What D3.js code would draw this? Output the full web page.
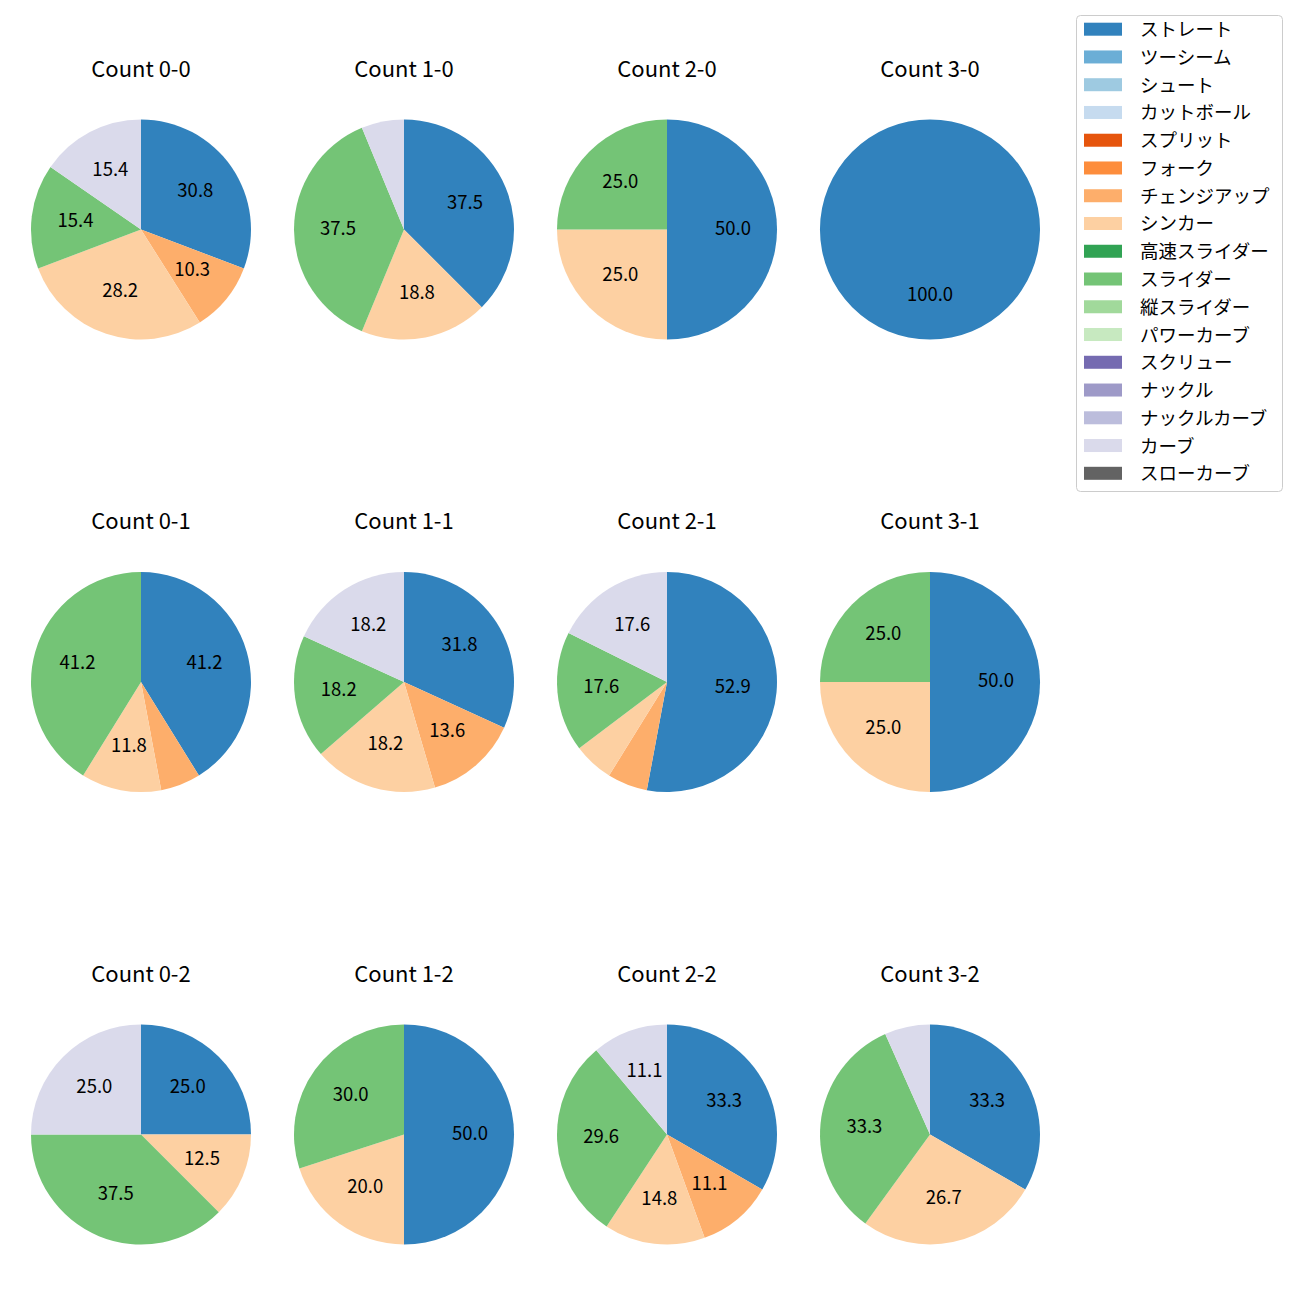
<!DOCTYPE html>
<html>
<head>
<meta charset="utf-8">
<script src="https://cdn.jsdelivr.net/npm/d3@7"></script>
<style>
  html, body { margin: 0; padding: 0; background: #fff; }
  svg { display: block; }
  text { font-family: "Noto Sans CJK JP", "Noto Sans", sans-serif; }
</style>
</head>
<body>
<svg id="chart" width="1300" height="1300"></svg>
<script>
// ---- data ----
const pitchTypes = ["ストレート","ツーシーム","シュート","カットボール","スプリット","フォーク","チェンジアップ","シンカー","高速スライダー","スライダー","縦スライダー","パワーカーブ","スクリュー","ナックル","ナックルカーブ","カーブ","スローカーブ"];
const pitchColors = ["#3182bd","#6baed6","#9ecae1","#c6dbef","#e6550d","#fd8d3c","#fdae6b","#fdd0a2","#31a354","#74c476","#a1d99b","#c7e9c0","#756bb1","#9e9ac8","#bcbddc","#dadaeb","#636363"];
const balls = ["0","1","2","3"];
const strikes = ["0","1","2"];
// pitch counts per situation, in pitchTypes order
const count00 = [12,0,0,0,0,0,4,11,0,6,0,0,0,0,0,6,0];
const count10 = [6,0,0,0,0,0,0,3,0,6,0,0,0,0,0,1,0];
const count20 = [2,0,0,0,0,0,0,1,0,1,0,0,0,0,0,0,0];
const count30 = [1,0,0,0,0,0,0,0,0,0,0,0,0,0,0,0,0];
const count01 = [7,0,0,0,0,0,1,2,0,7,0,0,0,0,0,0,0];
const count11 = [7,0,0,0,0,0,3,4,0,4,0,0,0,0,0,4,0];
const count21 = [9,0,0,0,0,0,1,1,0,3,0,0,0,0,0,3,0];
const count31 = [2,0,0,0,0,0,0,1,0,1,0,0,0,0,0,0,0];
const count02 = [2,0,0,0,0,0,0,1,0,3,0,0,0,0,0,2,0];
const count12 = [5,0,0,0,0,0,0,2,0,3,0,0,0,0,0,0,0];
const count22 = [9,0,0,0,0,0,3,4,0,8,0,0,0,0,0,3,0];
const count32 = [5,0,0,0,0,0,0,4,0,5,0,0,0,0,0,1,0];
const labelThreshold = 10;

const panels = [
  {b:"0", s:"0", v:count00},{b:"1", s:"0", v:count10},{b:"2", s:"0", v:count20},{b:"3", s:"0", v:count30},
  {b:"0", s:"1", v:count01},{b:"1", s:"1", v:count11},{b:"2", s:"1", v:count21},{b:"3", s:"1", v:count31},
  {b:"0", s:"2", v:count02},{b:"1", s:"2", v:count12},{b:"2", s:"2", v:count22},{b:"3", s:"2", v:count32}
];

// ---- layout ----
const svg = d3.select("#chart");
svg.append("rect").attr("width",1300).attr("height",1300).attr("fill","#fff");

const x = d3.scalePoint().domain(balls).range([141, 930]);
const y = d3.scalePoint().domain(strikes).range([229.5, 1134.5]);
const color = d3.scaleOrdinal().domain(pitchTypes).range(pitchColors);
const R = 110;

const pie = d3.pie().sort(null).value(d => d.value).startAngle(0).endAngle(2*Math.PI);
const arc = d3.arc().innerRadius(0).outerRadius(R);
const labelArc = d3.arc().innerRadius(R*0.6).outerRadius(R*0.6);

panels.forEach(p => {
  const g = svg.append("g").attr("transform", `translate(${x(p.b)},${y(p.s)})`);
  const total = d3.sum(p.v);
  const data = pitchTypes.map((t,i) => ({type:t, value:p.v[i]}));
  const arcs = pie(data).filter(a => a.data.value > 0);
  g.selectAll("path.slice").data(arcs).join("path")
    .attr("class","slice")
    .attr("d", arc)
    .attr("fill", d => color(d.data.type));
  g.selectAll("text.lbl").data(arcs.filter(a => a.data.value/total*100 >= labelThreshold)).join("text")
    .attr("class","lbl")
    .attr("transform", d => `translate(${labelArc.centroid(d)})`)
    .attr("dy", "-3")
    .attr("text-anchor","middle")
    .attr("dominant-baseline","central")
    .attr("font-size","18.5px")
    .attr("fill","#000")
    .text(d => (d.data.value/total*100).toFixed(1));
  g.append("text")
    .attr("x",0).attr("y",-153)
    .attr("text-anchor","middle")
    .attr("font-size","22px")
    .attr("fill","#000")
    .text(`Count ${p.b}-${p.s}`);
});

// ---- legend ----
const lg = svg.append("g");
lg.append("rect")
  .attr("x",1076.5).attr("y",15.5).attr("width",206).attr("height",476)
  .attr("rx",4).attr("ry",4)
  .attr("fill","#fff").attr("fill-opacity",0.8)
  .attr("stroke","#cccccc").attr("stroke-width",1);
const ly = d3.scalePoint().domain(pitchTypes).range([29.2, 473.3]);
const items = lg.selectAll("g.item").data(pitchTypes).join("g").attr("class","item")
  .attr("transform", d => `translate(0,${ly(d)})`);
items.append("rect")
  .attr("x",1084).attr("y",-6.5).attr("width",38).attr("height",13)
  .attr("fill", d => color(d));
items.append("text")
  .attr("x",1140).attr("y",0)
  .attr("dy","-1")
  .attr("dominant-baseline","central")
  .attr("font-size","18.5px")
  .attr("fill","#000")
  .text(d => d);
</script>
</body>
</html>
